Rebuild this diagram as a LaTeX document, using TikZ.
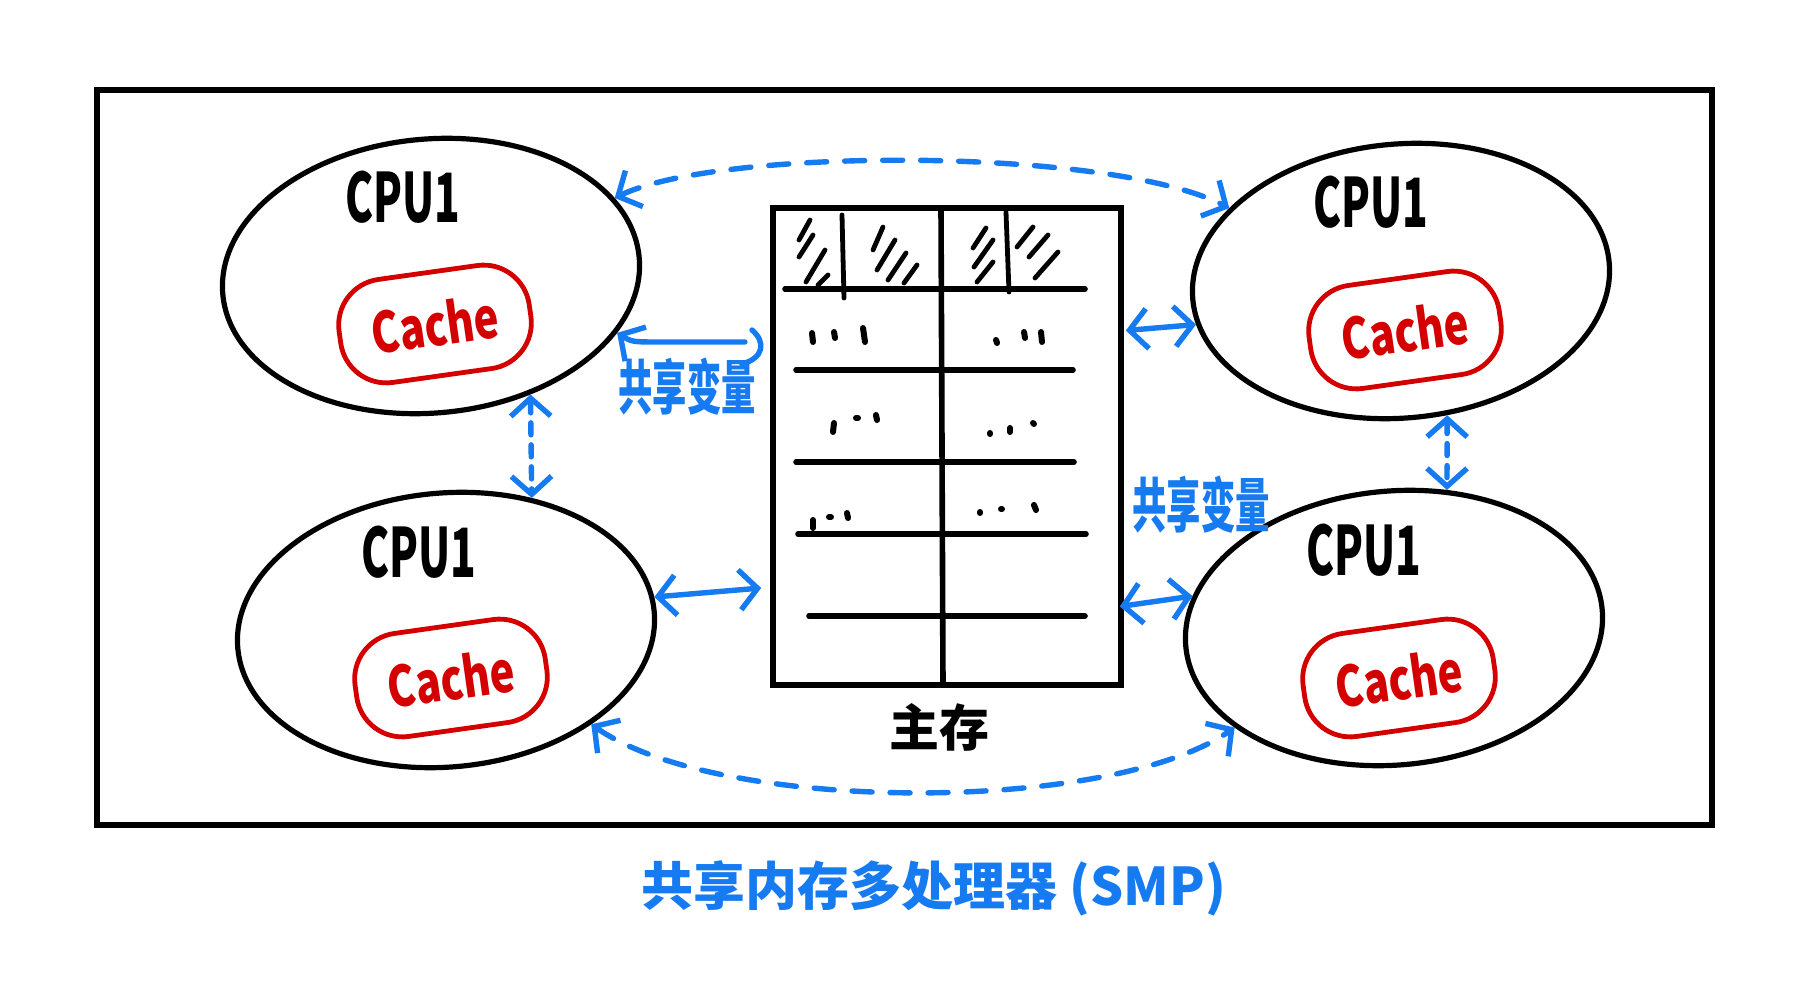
\documentclass[tikz,border=0pt]{standalone}
\usepackage{fontspec}
\usepackage{graphicx}
\newfontfamily\cjk{Noto Sans CJK SC}
\usetikzlibrary{shapes.geometric,arrows.meta,calc}
\definecolor{hblue}{RGB}{22,122,240}
\definecolor{hred}{RGB}{212,0,0}
\begin{document}
\begin{tikzpicture}[x=0.5pt,y=-0.5pt,
  cpu/.style={ellipse,draw,line width=2.6pt,minimum width=209pt,minimum height=137pt,inner sep=0pt,rotate=5},
  cacheblob/.style={draw=hred,line width=2.4pt,rounded corners=23pt,minimum width=96pt,minimum height=52pt,text=hred,inner sep=0pt,rotate=8,font=\cjk\bfseries\fontsize{28}{30}\selectfont},
  cpulab/.style={font=\cjk\bfseries\fontsize{34}{36}\selectfont,inner sep=0pt},
  ln/.style={line width=2.8pt,line cap=round},
  hatch/.style={line width=2.4pt,line cap=round},
  bl/.style={draw=hblue,line width=2.7pt,line cap=round,>={Straight Barb[length=9pt,width=20pt]}},
  bluetext/.style={text=hblue,inner sep=0pt,font=\cjk\bfseries\fontsize{22}{24}\selectfont}
]
\useasboundingbox[fill=white] (0,0) rectangle (1796,1000);
% outer frame
\node[draw,line width=2.9pt,minimum width=807.5pt,minimum height=367.5pt,inner sep=0pt] (frame) at (904.5,457.5) {};
% CPUs
\node[cpu] (tl) at (431,276) {};
\node[cpu] (tr) at (1401,281) {};
\node[cpu] (bl) at (446,630) {};
\node[cpu] (br) at (1394,628) {};
\node[cpulab] (ltl) at (403,197) {\scalebox{0.62}[1]{CPU1}};
\node[cpulab] (ltr) at (1371,202) {\scalebox{0.62}[1]{CPU1}};
\node[cpulab] (lbl) at (419,552) {\scalebox{0.62}[1]{CPU1}};
\node[cpulab] (lbr) at (1364,550) {\scalebox{0.62}[1]{CPU1}};
\node[cacheblob] (ctl) at (435,324) {\scalebox{0.75}[1]{Cache}};
\node[cacheblob] (ctr) at (1405,330) {\scalebox{0.75}[1]{Cache}};
\node[cacheblob] (cbl) at (451,678) {\scalebox{0.75}[1]{Cache}};
\node[cacheblob] (cbr) at (1399,678) {\scalebox{0.75}[1]{Cache}};
% main memory
\node[draw,line width=2.8pt,minimum width=174pt,minimum height=238.5pt,inner sep=0pt] (mem) at (947,446.5) {};
\draw[ln] (941,208) -- (943,685);
\draw[ln] (785,289) -- (1085,289);
\draw[ln] (796,370) -- (1073,370);
\draw[ln] (796,462) -- (1074,462);
\draw[ln] (798,534) -- (1086,534);
\draw[ln] (809,616) -- (1085,616);
\draw[hatch] (842,215) -- (844,298);
\draw[hatch] (1006,212) -- (1009,292);
\foreach \a/\b/\c/\d in {810/220/799/240, 813/235/799/257, 825/250/806/282, 828/275/818/285,
  883/227/873/250, 895/240/877/270, 906/253/888/280, 917/265/904/283,
  986/228/973/248, 993/240/974/267, 993/262/977/282,
  1033/227/1017/247, 1048/235/1029/257, 1058/252/1035/278}
  \draw[hatch] (\a,\b) -- (\c,\d);
\foreach \a/\b/\c/\d in {812/333/813/342, 834/332/835/338, 863/328/865/342,
  996/340/997/343, 1024/332/1025/338, 1041/332/1042/342,
  834/423/833/432, 856/418/858/418, 876/415/877/420,
  990/433/990/434, 1010/428/1010/432, 1033/423/1034/424,
  813/520/813/528, 829/517/831/517, 847/513/848/518,
  980/512/980/513, 1001/509/1002/509, 1034/505/1036/510}
  \draw[hatch,line width=3pt] (\a,\b) -- (\c,\d);
\node[inner sep=0pt,font=\cjk\bfseries\fontsize{25}{27}\selectfont] (mlab) at (939,727) {主存};
% blue connectors
\draw[bl,<->,dash pattern=on 10pt off 9pt] (tl.18) .. controls (720,147) and (1110,147) .. (tr.152);
\draw[bl,<->,dash pattern=on 10pt off 9pt] (bl.-38) .. controls (720,814) and (1110,814) .. (br.207);
\draw[bl,<->,dash pattern=on 6pt off 5pt] (tl.-55) -- (bl.52);
\draw[bl,<->,dash pattern=on 6pt off 5pt] (tr.-76) -- (br.64);
\draw[bl,<->] (bl.4) -- ([xshift=-4.5pt,yshift=-70.75pt]mem.west);
\draw[bl,<->] ([xshift=1pt,yshift=58pt]mem.east) -- (tr.187);
\draw[bl,<->] ([xshift=-2pt,yshift=-80pt]mem.east) -- (br.166);
\draw[bl,<-] (tl.-22) .. controls (632,342) .. (662,342) -- (745,342);
\draw[bl] (752,330) .. controls (766,342) and (764,358) .. (742,364);
\node[bluetext] (sv1) at (687,387) {\scalebox{0.78}[1.35]{共享变量}};
\node[bluetext] (sv2) at (1201,505) {\scalebox{0.78}[1.35]{共享变量}};
\node[text=hblue,inner sep=0pt,font=\cjk\bfseries\fontsize{26}{28}\selectfont] (cap) at (934,888) {共享内存多处理器 (SMP)};
\end{tikzpicture}
\end{document}
